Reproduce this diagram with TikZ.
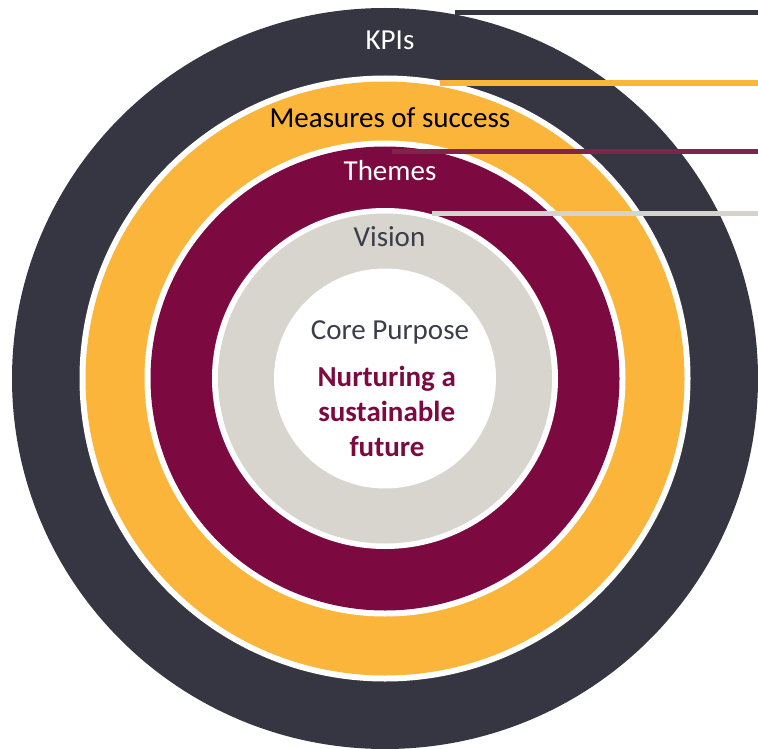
\documentclass[tikz,border=0pt]{standalone}
\usepackage{fontspec}
\setmainfont{Carlito}
\definecolor{kpidark}{HTML}{353641}
\definecolor{mosorange}{HTML}{FBB53B}
\definecolor{thememaroon}{HTML}{7C0A41}
\definecolor{themeline}{HTML}{822449}
\definecolor{visiongray}{HTML}{D8D5CE}
\definecolor{visionline}{HTML}{D6D3CC}
\definecolor{labelgray}{HTML}{3B3E4A}
\tikzset{
  ringlabel/.style={anchor=base, inner sep=0pt, font=\fontsize{29}{35}\selectfont},
  boldlabel/.style={ringlabel, font=\fontsize{29}{35}\selectfont\bfseries, text=thememaroon},
  leader/.style={line width=#1, line cap=butt}
}
\begin{document}
\begin{tikzpicture}[x=1pt,y=-1pt]
\useasboundingbox (0,0) rectangle (758,749);
\coordinate (c) at (385,378.5);
% rings
\fill[kpidark] (c) ellipse [x radius=373, y radius=370.5];
\fill[white] (c) ellipse [x radius=305.5, y radius=303];
\fill[mosorange] (c) ellipse [x radius=299.5, y radius=297];
\fill[white] (c) ellipse [x radius=240.5, y radius=238];
\fill[thememaroon] (c) ellipse [x radius=234.5, y radius=232];
\fill[white] (c) ellipse [x radius=173, y radius=170.5];
\fill[visiongray] (c) ellipse [x radius=167, y radius=165];
\fill[white] (c) ellipse [x radius=111, y radius=110];
% leader lines
\coordinate (kpiA) at (455,12.5);   \coordinate (kpiB) at (758,12.5);
\coordinate (mosA) at (440,83);     \coordinate (mosB) at (758,83);
\coordinate (thmA) at (392,151.5);  \coordinate (thmB) at (758,151.5);
\coordinate (visA) at (432,213.5);  \coordinate (visB) at (758,213.5);
\draw[leader=5pt, kpidark] (kpiA) -- (kpiB);
\draw[leader=6pt, mosorange] (mosA) -- (mosB);
\draw[leader=5.5pt, themeline] (thmA) -- (thmB);
\draw[leader=5.5pt, visionline] (visA) -- (visB);
% labels
\node[ringlabel, text=white] (kpis) at (390,49.3) {KPIs};
\node[ringlabel, text=black] (mos) at (390,127.3) {Measures of success};
\node[ringlabel, text=white] (themes) at (390,181) {Themes};
\node[ringlabel, text=labelgray] (vision) at (389.5,246.7) {Vision};
\node[ringlabel, text=labelgray] (core) at (390,339.3) {Core Purpose};
\node[boldlabel] (nurt1) at (386.7,386) {Nurturing a};
\node[boldlabel] (nurt2) at (386.7,421) {sustainable};
\node[boldlabel] (nurt3) at (387,456.7) {future};
\end{tikzpicture}
\end{document}
